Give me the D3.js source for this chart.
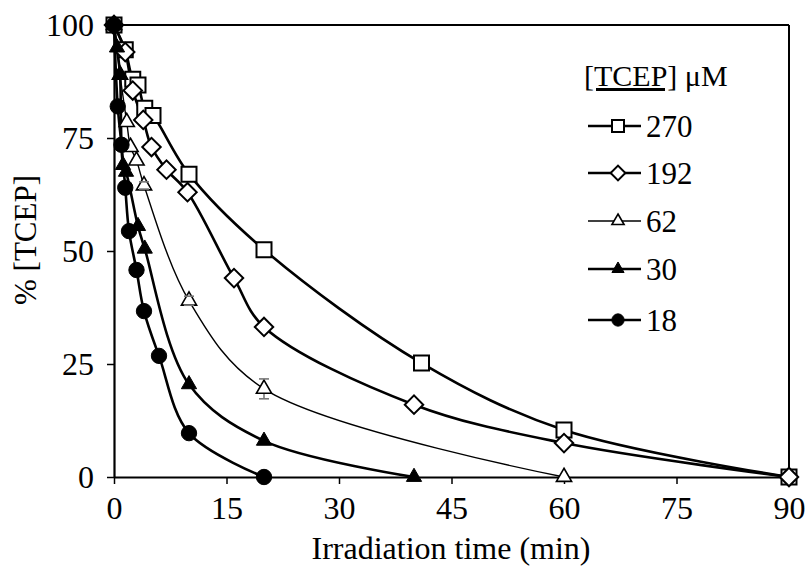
<!DOCTYPE html>
<html><head><meta charset="utf-8">
<script src="https://cdn.jsdelivr.net/npm/d3@7"></script>
<style>body{margin:0;background:#fff}svg{display:block}</style>
</head><body>
<svg id="c" width="808" height="568"></svg>
<script>
// ---- data ----
const seriesNames = ["270", "192", "62", "30", "18"];
const t270 = [0, 1.5, 2.5, 3.2, 4.1, 5.2, 10, 20, 41, 60, 90];
const v270 = [100, 94.5, 88, 86.7, 81.6, 80, 67, 50.3, 25.2, 10.4, 0];
const t192 = [0, 1.5, 2.5, 3.9, 5, 7, 9.8, 16, 20, 40, 60, 90];
const v192 = [100, 94, 85.5, 79, 73, 68, 63, 44, 33.2, 16, 7.5, 0];
const t62 = [0, 0.8, 1.7, 2.2, 3, 4, 10, 20, 60];
const v62 = [100, 89, 78.5, 73, 70, 64.5, 39, 19.5, 0];
const e62 = [0, 0, 0, 0, 0, 0.8, 1, 2.2, 0];
const t30 = [0, 0.4, 0.8, 1.2, 1.6, 3.2, 4.1, 10, 20, 40];
const v30 = [100, 95, 89, 69, 67.5, 55.5, 50.5, 20.5, 8, 0];
const t18 = [0, 0.5, 1, 1.5, 2, 3, 4, 6, 10, 20];
const v18 = [100, 82, 73.5, 64, 54.4, 45.8, 36.7, 26.8, 9.7, 0];
const xTicks = [0, 15, 30, 45, 60, 75, 90];
const yTicks = [0, 25, 50, 75, 100];

const svg = d3.select("#c");
const font = "'Liberation Serif','Times New Roman',serif";
const x = d3.scaleLinear().domain([0, 90]).range([114, 789]);
const y = d3.scaleLinear().domain([0, 100]).range([477, 25]);

const series = [
  {name: seriesNames[0], t: t270, v: v270, sym: "square", lw: 2.6},
  {name: seriesNames[1], t: t192, v: v192, sym: "diamond", lw: 2.6},
  {name: seriesNames[2], t: t62, v: v62, e: e62, sym: "otri", lw: 1.4},
  {name: seriesNames[3], t: t30, v: v30, sym: "ftri", lw: 2.6},
  {name: seriesNames[4], t: t18, v: v18, sym: "circle", lw: 2.6}
];

function symPath(kind, big) {
  const k = big ? 1 : 0.8;
  if (kind === "square") return d3.symbol(d3.symbolSquare, 225 * k * k)();
  if (kind === "diamond") return d3.symbol(d3.symbolSquare, 170 * k * k)();
  if (kind === "otri" || kind === "ftri") return d3.symbol(d3.symbolTriangle, 100 * k * k)();
  return d3.symbol(d3.symbolCircle, 185 * k * k)();
}
function drawSym(g, kind, cx, cy, big) {
  const p = g.append("path").attr("d", symPath(kind, big))
    .attr("transform", `translate(${cx},${cy})` + (kind === "diamond" ? " rotate(45)" : ""));
  if (kind === "ftri" || kind === "circle") p.attr("fill", "#000").attr("stroke", "#000").attr("stroke-width", 1);
  else p.attr("fill", "#fff").attr("stroke", "#000").attr("stroke-width", kind === "otri" ? 1.6 : 2);
  return p;
}

// axes
const xAxis = svg.append("g").attr("transform", "translate(0,477)")
  .call(d3.axisBottom(x).tickValues(xTicks).tickSize(7).tickPadding(9).tickSizeOuter(0));
const yAxis = svg.append("g").attr("transform", "translate(114,0)")
  .call(d3.axisLeft(y).tickValues(yTicks).tickSize(7).tickPadding(13).tickSizeOuter(0));
[xAxis, yAxis].forEach(a => {
  a.select(".domain").attr("stroke", "#000").attr("stroke-width", 2.2);
  a.selectAll(".tick line").attr("stroke", "#000").attr("stroke-width", 1.5);
  a.selectAll(".tick text").attr("font-family", font).attr("font-size", 32).attr("fill", "#000");
});
xAxis.selectAll(".tick text").attr("dy", "0.8em");
// frame top & right
svg.append("line").attr("x1", 114).attr("x2", 789).attr("y1", 25).attr("y2", 25).attr("stroke", "#000").attr("stroke-width", 2);
svg.append("line").attr("x1", 789).attr("x2", 789).attr("y1", 25).attr("y2", 477).attr("stroke", "#000").attr("stroke-width", 2);

// titles
svg.append("text").attr("x", 451).attr("y", 559).attr("text-anchor", "middle")
  .attr("font-family", font).attr("font-size", 32).text("Irradiation time (min)");
svg.append("text").attr("transform", "translate(36,240) rotate(-90)").attr("text-anchor", "middle")
  .attr("font-family", font).attr("font-size", 31).text("% [TCEP]");

// lines
const line = d3.line().x(d => x(d[0])).y(d => y(d[1])).curve(d3.curveCatmullRom.alpha(0.5));
series.forEach(s => {
  const pts = s.t.map((t, i) => [t, s.v[i]]);
  svg.append("path").attr("d", line(pts)).attr("fill", "none").attr("stroke", "#000").attr("stroke-width", s.lw);
});
// error bars
series.forEach(s => {
  if (!s.e) return;
  s.t.forEach((t, i) => {
    if (!s.e[i]) return;
    const g = svg.append("g").attr("stroke", "#777").attr("stroke-width", 1.6);
    g.append("line").attr("x1", x(t)).attr("x2", x(t)).attr("y1", y(s.v[i] - s.e[i])).attr("y2", y(s.v[i] + s.e[i]));
  });
});
// markers
series.forEach(s => {
  const g = svg.append("g");
  s.t.forEach((t, i) => drawSym(g, s.sym, x(t), y(s.v[i]), true));
});
// error bar caps drawn over markers
series.forEach(s => {
  if (!s.e) return;
  s.t.forEach((t, i) => {
    if (!s.e[i]) return;
    const g = svg.append("g").attr("stroke", "#777").attr("stroke-width", 1.6);
    [s.v[i] - s.e[i], s.v[i] + s.e[i]].forEach(v => g.append("line").attr("x1", x(t) - 5).attr("x2", x(t) + 5).attr("y1", y(v)).attr("y2", y(v)));
  });
});

// legend
const lg = svg.append("g");
const title = lg.append("text").attr("x", 584).attr("y", 86).attr("font-family", font).attr("font-size", 30);
title.append("tspan").attr("text-decoration", "underline").text("[TCEP]");
title.append("tspan").text(" μM");
const rowY = [126, 173, 221, 269, 320];
series.forEach((s, i) => {
  const yy = rowY[i];
  lg.append("line").attr("x1", 588).attr("x2", 641).attr("y1", yy).attr("y2", yy)
    .attr("stroke", "#000").attr("stroke-width", s.lw);
  drawSym(lg, s.sym, 618, yy, false);
  lg.append("text").attr("x", 646).attr("y", yy).attr("dy", "0.35em")
    .attr("font-family", font).attr("font-size", 31).text(s.name);
});
</script>
</body></html>
